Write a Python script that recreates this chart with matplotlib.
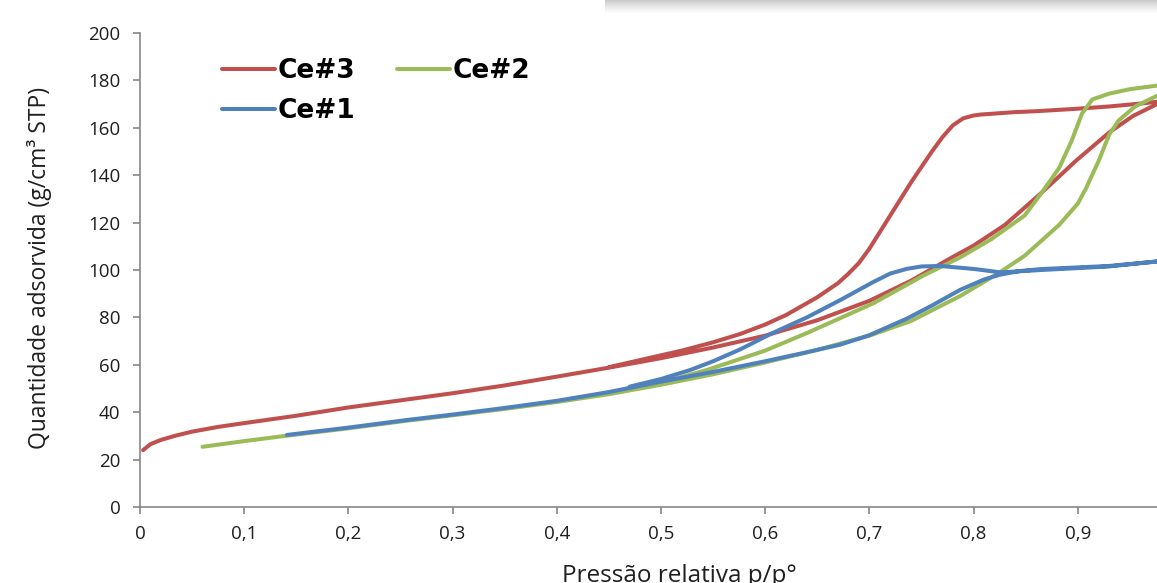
import numpy as np
import matplotlib
matplotlib.use("Agg")
import matplotlib.pyplot as plt

plt.rcParams['font.family'] = ['Open Sans', 'DejaVu Sans']

# Ce#3 (red): adsorption branch then desorption branch
ce3_x = [0.003, 0.01, 0.02, 0.035, 0.05, 0.075, 0.1, 0.15, 0.2, 0.25, 0.3, 0.35,
         0.4, 0.45, 0.5, 0.55, 0.6, 0.65, 0.7, 0.74, 0.78, 0.8, 0.83, 0.865,
         0.898, 0.93, 0.953, 0.976, 0.99,
         0.976, 0.962, 0.93, 0.898, 0.86, 0.839, 0.82, 0.807, 0.8, 0.79, 0.78,
         0.77, 0.76, 0.75, 0.74, 0.73, 0.72, 0.71, 0.7, 0.69, 0.68, 0.67,
         0.65, 0.62, 0.6, 0.576, 0.55, 0.52, 0.5, 0.48, 0.45]
ce3_y = [24, 26.5, 28.3, 30.2, 31.8, 33.8, 35.4, 38.5, 42, 45, 48, 51.3,
         55, 58.8, 62.8, 67.3, 72.3, 78.8, 87, 95.5, 105.5, 110.3, 119, 132.5,
         146, 158, 165, 170, 172,
         171, 170.3, 169, 168, 167, 166.6, 166, 165.6, 165.2, 164, 161,
         156, 150, 143.5, 137, 130, 123, 116, 109, 103, 98.5, 94.5,
         88.5, 81, 77, 73, 69.5, 66, 64, 62, 59]

# Ce#2 (green)
ce2_x = [0.06, 0.1, 0.141, 0.2, 0.256, 0.3, 0.35, 0.4, 0.45, 0.5, 0.55, 0.6,
         0.65, 0.7, 0.74, 0.787, 0.81, 0.825, 0.849, 0.882, 0.9, 0.908, 0.92,
         0.93, 0.939, 0.955, 0.976, 0.99,
         0.976, 0.95, 0.93, 0.914, 0.904, 0.894, 0.882, 0.866, 0.849, 0.817,
         0.787, 0.752, 0.704, 0.64, 0.6, 0.544, 0.5]
ce2_y = [25.4, 27.8, 30.1, 33.2, 36.4, 38.7, 41.4, 44.3, 47.6, 51.6, 56, 61,
         66.3, 72.3, 78.5, 89, 95, 99, 106, 119, 128, 134.6, 146,
         157, 163, 169, 173.5, 176,
         177.8, 176.3, 174.4, 172, 166, 154.4, 143, 133, 123, 113,
         105.3, 97.7, 86, 73.4, 66, 57.8, 52.5]

# Ce#1 (blue)
ce1_x = [0.141, 0.2, 0.256, 0.3, 0.35, 0.4, 0.45, 0.5, 0.55, 0.6, 0.64, 0.672,
         0.7, 0.736, 0.76, 0.787, 0.81, 0.825, 0.845, 0.865, 0.93, 0.976, 0.99,
         0.976, 0.93, 0.865, 0.826, 0.801, 0.768, 0.75, 0.736, 0.72, 0.704,
         0.672, 0.64, 0.607, 0.576, 0.55, 0.528, 0.5, 0.47]
ce1_y = [30.4, 33.5, 36.7, 39, 41.8, 44.8, 48.5, 52.9, 57, 61.5, 65.3, 68.5,
         72.5, 79.5, 85, 91.6, 96, 98, 99.6, 100.4, 101.7, 103.6, 104.5,
         103.6, 101.5, 100, 99, 100.4, 101.7, 101.5, 100.5, 98.5, 95,
         87.3, 80, 73.4, 66.5, 61.5, 57.8, 54, 50.8]

x_ticks = [0, 0.1, 0.2, 0.3, 0.4, 0.5, 0.6, 0.7, 0.8, 0.9]
x_tick_labels = ['0', '0,1', '0,2', '0,3', '0,4', '0,5', '0,6', '0,7', '0,8', '0,9']
y_ticks = [0, 20, 40, 60, 80, 100, 120, 140, 160, 180, 200]

red = '#C0504D'
green = '#9BBB59'
blue = '#4F81BD'
axis_gray = '#868686'
text_col = '#1f1f1f'

fig = plt.figure(figsize=(11.57, 5.83), dpi=100)
ax = fig.add_axes([140 / 1157, 1 - 507 / 583, 1 - 140 / 1157, (507 - 33) / 583])

l3, = ax.plot(ce3_x, ce3_y, color=red, lw=2.9, solid_capstyle='round',
              solid_joinstyle='round', label='Ce#3')
l2, = ax.plot(ce2_x, ce2_y, color=green, lw=2.9, solid_capstyle='round',
              solid_joinstyle='round', label='Ce#2')
l1, = ax.plot(ce1_x, ce1_y, color=blue, lw=2.9, solid_capstyle='round',
              solid_joinstyle='round', label='Ce#1')

ax.set_xlim(0, 0.976)
ax.set_ylim(0, 200)
ax.set_xticks(x_ticks)
ax.set_xticklabels(x_tick_labels)
ax.set_yticks(y_ticks)

for s in ['top', 'right']:
    ax.spines[s].set_visible(False)
for s in ['left', 'bottom']:
    ax.spines[s].set_color(axis_gray)
    ax.spines[s].set_linewidth(1.2)
ax.tick_params(axis='both', direction='out', length=5, width=1.2, color=axis_gray,
               labelsize=13.5, labelcolor=text_col)
ax.tick_params(axis='x', pad=8)
ax.tick_params(axis='y', pad=9)

fig.text(40 / 1157, 1 - 268 / 583, 'Quantidade adsorvida (g/cm\u00b3 STP)',
         fontsize=16.5, color=text_col, rotation=90, ha='center', va='center')
fig.text(679 / 1157, 1 - 564 / 583, 'Pressão relativa p/p°', fontsize=17.5,
         color=text_col, ha='center', va='top')

ax.legend([l3, l1, l2], ['Ce#3', 'Ce#1', 'Ce#2'], ncol=2, frameon=False,
          loc='upper left', bbox_to_anchor=(0.07, 0.97),
          prop={'family': 'DejaVu Sans', 'weight': 'bold', 'size': 19},
          handlelength=2.0, handletextpad=0.1, columnspacing=1.6,
          labelspacing=0.55, borderaxespad=0)

# shadow strip at top right
sh = fig.add_axes([605 / 1157, 1 - 14 / 583, 1 - 605 / 1157, 14 / 583])
grad = np.linspace(0.35, 0.0, 30).reshape(-1, 1)
sh.imshow(grad, cmap='Greys', aspect='auto', vmin=0, vmax=1, alpha=0.9)
sh.axis('off')

fig.savefig('out.png', dpi=100)
